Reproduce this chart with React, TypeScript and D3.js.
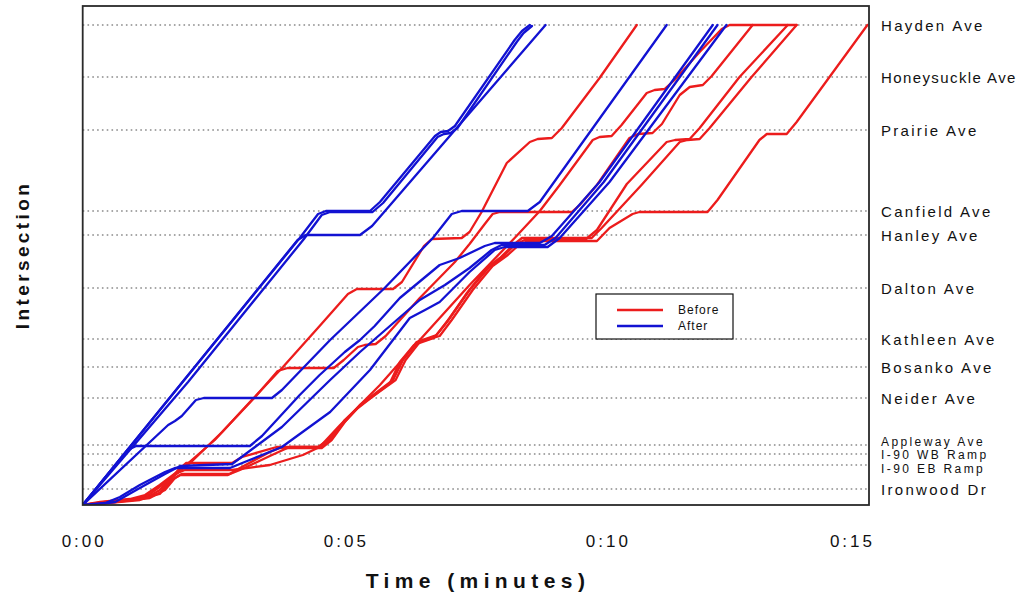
import React from "react";
import * as d3 from "d3";

// ---- axis data ----
const TIME_TICKS = [0, 5, 10, 15];
const TIME_LABELS = ["0:00", "0:05", "0:10", "0:15"];

const INTERSECTIONS = [
  "Ironwood Dr", "I-90 EB Ramp", "I-90 WB Ramp", "Appleway Ave", "Neider Ave",
  "Bosanko Ave", "Kathleen Ave", "Dalton Ave", "Hanley Ave", "Canfield Ave",
  "Prairie Ave", "Honeysuckle Ave", "Hayden Ave",
];
const POSITIONS = [16, 40, 51, 60, 107, 138, 166, 217, 270, 294, 375, 428, 480];

// ---- "Before" runs (time in minutes, distance units) ----
const before1 = [[0,0],[0.33,3],[0.90,6],[1.19,10],[1.47,20],[1.95,39],[2.52,65],[3.19,103],[3.82,138],[4.52,179],[5.06,211],[5.23,216],[5.92,216],[6.09,223],[6.51,259],[6.66,266],[7.23,267],[7.38,273],[7.61,293],[8.09,342],[8.53,363],[8.68,366],[8.95,367],[9.14,377],[9.86,427],[10.57,480]];
const before2 = [[0,0],[0.33,2],[0.90,5],[1.28,9],[1.47,15],[1.76,31],[1.95,35],[2.85,35],[3.57,40],[4.20,50],[4.52,58],[4.91,80],[5.67,120],[6.43,165],[7.38,220],[8.24,267],[8.72,294],[9.10,320],[9.73,365],[9.86,368],[10.09,369],[10.28,380],[10.76,412],[10.91,415],[11.10,416],[11.29,425],[11.77,453],[12.19,476],[12.34,480],[13.62,480]];
const before3 = [[0,0],[0.43,3],[1.00,6],[1.28,11],[1.57,22],[2.05,42],[2.66,73],[3.29,108],[3.72,134],[3.91,137],[4.79,137],[4.98,145],[5.25,158],[5.38,160],[5.59,161],[5.78,169],[6.43,207],[7.10,243],[7.38,261],[7.67,281],[7.82,291],[7.96,293],[9.33,293],[9.48,300],[9.81,320],[10.43,367],[10.59,371],[10.87,372],[11.05,381],[11.39,410],[11.58,418],[11.83,420],[12.00,429],[12.78,480]];
const before4 = [[0,0],[0.52,3],[1.09,6],[1.47,11],[1.70,25],[1.86,30],[2.77,30],[3.00,37],[3.57,53],[3.76,57],[4.56,57],[4.75,65],[5.00,83],[5.29,100],[5.92,125],[6.11,145],[6.37,163],[6.75,170],[7.00,187],[7.38,215],[7.77,239],[8.05,250],[8.24,260],[8.43,265],[9.58,265],[9.81,275],[10.38,321],[11.14,363],[11.30,365],[11.58,366],[11.77,377],[12.53,428],[13.45,480]];
const before5 = [[0,0],[0.48,2],[1.09,5],[1.47,12],[1.82,35],[1.97,42],[2.85,42],[3.04,48],[3.70,58],[4.49,58],[4.68,65],[4.96,81],[5.25,97],[5.86,122],[6.05,143],[6.32,160],[6.70,167],[6.95,183],[7.33,212],[7.71,237],[7.96,247],[8.19,259],[8.38,267],[9.71,267],[9.90,277],[10.66,320],[11.39,363],[11.54,365],[11.77,366],[11.96,377],[12.76,428],[13.62,480]];
const before6 = [[0,0],[0.62,3],[1.28,7],[1.57,15],[1.76,27],[1.89,31],[2.81,31],[3.00,35],[3.57,49],[3.82,55],[3.95,58],[4.52,58],[4.72,65],[5.00,85],[5.33,101],[5.97,125],[6.16,145],[6.43,163],[6.81,169],[7.04,185],[7.44,215],[7.82,239],[8.11,250],[8.30,259],[8.49,264],[9.81,264],[10.05,277],[10.49,291],[10.62,293],[11.92,293],[12.11,305],[12.91,365],[13.05,371],[13.43,371],[13.62,383],[14.97,480]];

// ---- "After" runs ----
const after1 = [[0,0],[4.10,265],[4.26,270],[5.29,270],[5.52,279],[8.83,480]];
const after2 = [[0,0],[4.14,267],[4.49,291],[4.64,294],[5.48,294],[5.67,303],[6.72,369],[6.83,373],[6.97,374],[7.10,379],[8.24,465],[8.38,474],[8.53,480]];
const after3 = [[0,0],[2.01,123],[4.22,266],[4.56,290],[4.72,293],[5.53,293],[5.73,302],[6.77,368],[6.89,371],[7.02,372],[7.15,377],[8.28,463],[8.41,472],[8.57,479]];
const after4 = [[0,0],[0.86,55],[1.02,59],[3.19,59],[3.42,69],[4.14,110],[4.52,130],[5.00,153],[5.29,165],[5.57,179],[6.05,207],[6.81,240],[7.19,247],[7.67,259],[7.86,262],[8.72,262],[8.95,269],[9.86,323],[12.02,480]];
const after5 = [[0,0],[1.63,80],[1.76,84],[1.89,89],[2.16,105],[2.31,107],[3.61,107],[3.80,115],[4.72,165],[5.76,217],[6.68,267],[7.04,291],[7.23,294],[8.49,294],[8.72,303],[11.14,480]];
const after6 = [[0,0],[0.43,2],[0.71,8],[1.09,20],[1.57,33],[1.76,37],[2.81,37],[3.09,43],[3.80,58],[4.72,93],[5.48,135],[6.24,187],[6.53,195],[6.81,203],[7.38,233],[7.86,255],[8.05,258],[8.87,258],[9.10,267],[10.05,323],[12.28,480]];
const after7 = [[0,0],[0.33,1],[0.62,3],[1.09,17],[1.57,31],[1.86,39],[2.85,41],[3.80,78],[4.72,125],[5.29,153],[6.43,205],[6.91,220],[7.38,237],[7.80,255],[7.99,260],[8.81,260],[9.02,267],[9.94,323],[12.11,480]];

const BEFORE = [before1, before2, before3, before4, before5, before6];
const AFTER = [after1, after2, after3, after4, after5, after6, after7];

const SMALL = new Set(["I-90 EB Ramp", "I-90 WB Ramp", "Appleway Ave"]);
const LABEL_DY: Record<string, number> = { "Appleway Ave": -3, "I-90 WB Ramp": 1, "I-90 EB Ramp": 4 };
const LABEL_SPACING: Record<string, number> = { "Honeysuckle Ave": 1.4 };

const RED = "#ec1c1c";
const BLUE = "#1212d2";

export default function App() {
  const W = 1024, H = 595;
  const left = 82.7, right = 869, top = 6, bottom = 505;
  const x = d3.scaleLinear().domain([0, 15]).range([left, right]);
  const y = d3.scaleLinear().domain([0, 499]).range([bottom, top]);
  const line = d3.line<number[]>().x(d => x(d[0])).y(d => y(d[1])).curve(d3.curveLinear);
  const font = "'Liberation Sans', Arial, sans-serif";

  return (
    <svg width={W} height={H} style={{ position: "absolute", left: 0, top: 0, background: "#fff" }} fontFamily={font}>
      <defs>
        <clipPath id="plot"><rect x={left} y={top} width={right - left} height={bottom - top} /></clipPath>
      </defs>
      {POSITIONS.map((p, i) => (
        <line key={"g" + i} x1={left} x2={right} y1={y(p)} y2={y(p)} stroke="#8a8a8a" strokeWidth={1.3} strokeDasharray="1.6,3.2" />
      ))}
      <g clipPath="url(#plot)" fill="none" strokeWidth={2.3} strokeLinejoin="round" strokeLinecap="round">
        {BEFORE.map((r, i) => <path key={"b" + i} d={line(r) || ""} stroke={RED} />)}
        {AFTER.map((r, i) => <path key={"a" + i} d={line(r) || ""} stroke={BLUE} />)}
      </g>
      <rect x={left} y={top} width={right - left} height={bottom - top} fill="none" stroke="#2a2a2a" strokeWidth={1.8} />
      {INTERSECTIONS.map((n, i) => (
        <text key={"l" + i} x={881} y={y(POSITIONS[i]) + (LABEL_DY[n] || 0)} dominantBaseline="central"
          fontSize={SMALL.has(n) ? 12 : 15}
          letterSpacing={LABEL_SPACING[n] ?? (SMALL.has(n) ? 2.4 : 2.3)} fill="#111">{n}</text>
      ))}
      {TIME_TICKS.map((t, i) => {
        const last = i === TIME_TICKS.length - 1;
        return (
          <text key={"t" + i} x={last ? 875 : x(t) + 1.5} y={541} textAnchor={last ? "end" : "middle"} dominantBaseline="central"
            fontSize={17} letterSpacing={3} fill="#111">{TIME_LABELS[i]}</text>
        );
      })}
      <text x={478} y={580} textAnchor="middle" dominantBaseline="central" fontSize={21} fontWeight="bold" letterSpacing={5.4} fill="#111">Time (minutes)</text>
      <text transform={`translate(22,255) rotate(-90)`} textAnchor="middle" dominantBaseline="central" fontSize={19} fontWeight="bold" letterSpacing={3.4} fill="#111">Intersection</text>
      <g>
        <rect x={596} y={294} width={137} height={45} fill="#fff" stroke="#111" strokeWidth={1.2} />
        <line x1={617} x2={663} y1={310} y2={310} stroke={RED} strokeWidth={2.6} />
        <line x1={617} x2={663} y1={326} y2={326} stroke={BLUE} strokeWidth={2.6} />
        <text x={678} y={310} dominantBaseline="central" fontSize={12} letterSpacing={1} fill="#111">Before</text>
        <text x={678} y={326} dominantBaseline="central" fontSize={12} letterSpacing={1} fill="#111">After</text>
      </g>
    </svg>
  );
}
